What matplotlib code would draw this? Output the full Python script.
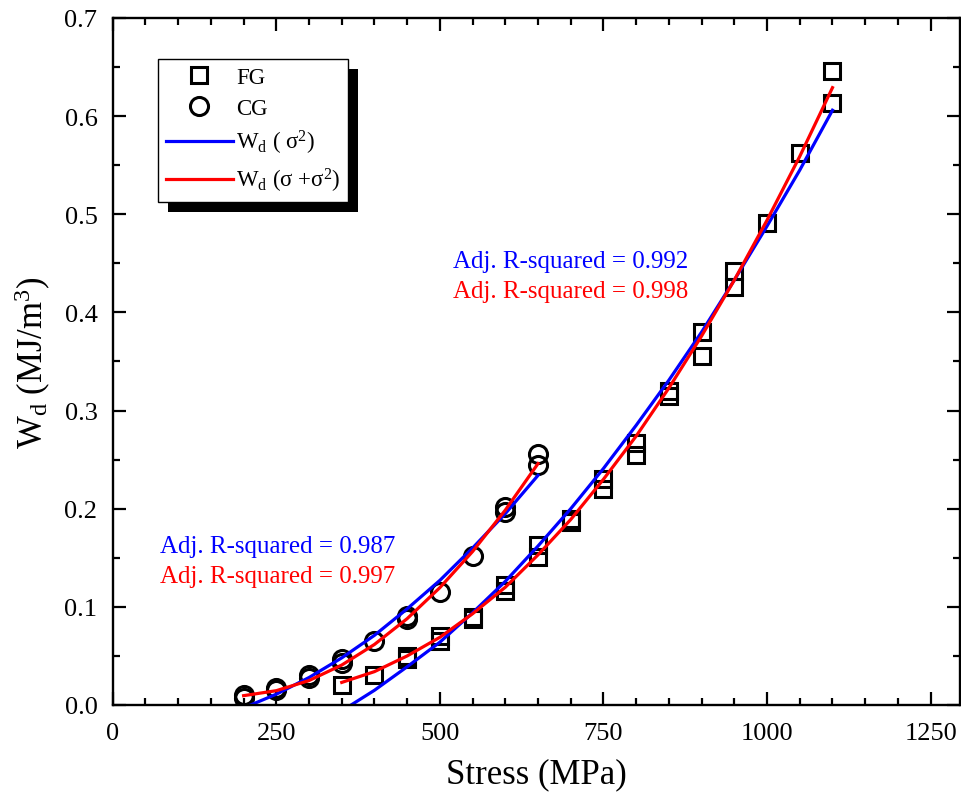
import matplotlib
matplotlib.use("Agg")
import matplotlib.pyplot as plt
from matplotlib.patches import Rectangle
from matplotlib.ticker import MultipleLocator

plt.rcParams['font.family'] = ['Liberation Serif', 'DejaVu Serif']
plt.rcParams['mathtext.fontset'] = 'custom'
plt.rcParams['mathtext.rm'] = 'Liberation Serif'
plt.rcParams['mathtext.it'] = 'Liberation Serif:italic'

# measured points
fg_stress = [350, 400, 450, 450, 500, 500, 550, 550, 600, 600, 650, 650, 700, 700,
             750, 750, 800, 800, 850, 850, 900, 900, 950, 950, 1000, 1050, 1100, 1100]
fg_wd = [0.020, 0.031, 0.050, 0.047, 0.070, 0.065, 0.090, 0.088, 0.122, 0.116, 0.163, 0.151,
         0.190, 0.186, 0.230, 0.220, 0.267, 0.255, 0.320, 0.315, 0.380, 0.356, 0.442, 0.426,
         0.491, 0.562, 0.646, 0.613]

cg_stress = [200, 200, 250, 250, 300, 300, 350, 350, 400, 450, 450, 500, 550, 600, 600, 650, 650]
cg_wd = [0.010, 0.007, 0.017, 0.015, 0.031, 0.027, 0.047, 0.043, 0.065, 0.091, 0.088,
         0.115, 0.152, 0.202, 0.197, 0.256, 0.245]

# fitted curves
fg_fit_stress = [350, 400, 450, 500, 550, 600, 650, 700, 750, 800, 850, 900, 950, 1000, 1050, 1100]
fg_fit_sq = [-0.006, 0.015, 0.039, 0.064, 0.094, 0.126, 0.162, 0.200, 0.241, 0.285, 0.331,
             0.380, 0.433, 0.488, 0.545, 0.606]
fg_fit_lin_sq = [0.023, 0.034, 0.050, 0.069, 0.093, 0.120, 0.153, 0.189, 0.230, 0.274, 0.323,
                 0.376, 0.433, 0.494, 0.559, 0.629]

cg_fit_stress = [200, 250, 300, 350, 400, 450, 500, 550, 600, 650]
cg_fit_sq = [-0.003, 0.011, 0.028, 0.048, 0.071, 0.098, 0.127, 0.160, 0.195, 0.234]
cg_fit_lin_sq = [0.0095, 0.0146, 0.0249, 0.0407, 0.0617, 0.088, 0.1196, 0.1564, 0.1986, 0.246]

blue = '#0000ff'
red = '#ff0000'

fig = plt.figure(figsize=(9.62, 8.04), dpi=100)
ax = fig.add_axes([0.1172, 0.1219, 0.8808, 0.8545])

ax.plot(fg_stress, fg_wd, 's', ms=12, mfc='none', mec='k', mew=2.2, label='FG')
ax.plot(cg_stress, cg_wd, 'o', ms=13, mfc='none', mec='k', mew=2.2, label='CG')
ax.plot(fg_fit_stress, fg_fit_sq, color=blue, lw=2.3, label=r'W$_{\rm d}$ ( σ$^2$)')
ax.plot(cg_fit_stress, cg_fit_sq, color=blue, lw=2.3)
ax.plot(fg_fit_stress, fg_fit_lin_sq, color=red, lw=2.3, label=r'W$_{\rm d}$ (σ +σ$^2$)')
ax.plot(cg_fit_stress, cg_fit_lin_sq, color=red, lw=2.3)

ax.text(520, 0.452, 'Adj. R-squared = 0.992', color=blue, fontsize=18, va='center')
ax.text(520, 0.422, 'Adj. R-squared = 0.998', color=red, fontsize=18, va='center')
ax.text(72, 0.162, 'Adj. R-squared = 0.987', color=blue, fontsize=18, va='center')
ax.text(72, 0.131, 'Adj. R-squared = 0.997', color=red, fontsize=18, va='center')

ax.set_xlim(0, 1295)
ax.set_ylim(0, 0.7)
ax.xaxis.set_major_locator(MultipleLocator(250))
ax.xaxis.set_minor_locator(MultipleLocator(50))
ax.yaxis.set_major_locator(MultipleLocator(0.1))
ax.yaxis.set_minor_locator(MultipleLocator(0.05))
ax.yaxis.set_major_formatter('{x:.1f}')

ax.tick_params(which='both', direction='in', top=True, right=True, width=1.6)
ax.tick_params(which='major', length=9.5, labelsize=19)
ax.tick_params(axis='x', which='major', pad=12)
ax.tick_params(axis='y', which='major', pad=11)
ax.tick_params(which='minor', length=5)
for s in ax.spines.values():
    s.set_linewidth(1.7)

ax.set_xlabel('Stress (MPa)', fontsize=25, labelpad=10)
ax.set_ylabel(r'W$_{\rm d}$ (MJ/m$^3$)', fontsize=25, labelpad=8)

leg = ax.legend(loc='upper left', bbox_to_anchor=(0.0535, 0.9403), borderaxespad=0,
                fontsize=16.5, frameon=True, fancybox=False, edgecolor='k', framealpha=1,
                handlelength=2.9, labelspacing=0.42, borderpad=0.35, handletextpad=0.15)
leg.get_frame().set_linewidth(1.0)
leg.set_zorder(10)

# black drop shadow behind the legend box
fig.canvas.draw()
bb = leg.get_window_extent()
shadow = Rectangle((bb.x0 + 10, bb.y0 - 10), bb.width, bb.height, transform=None,
                   facecolor='k', edgecolor='none', zorder=9, clip_on=False)
ax.add_artist(shadow)

fig.savefig('out.png', dpi=100)
